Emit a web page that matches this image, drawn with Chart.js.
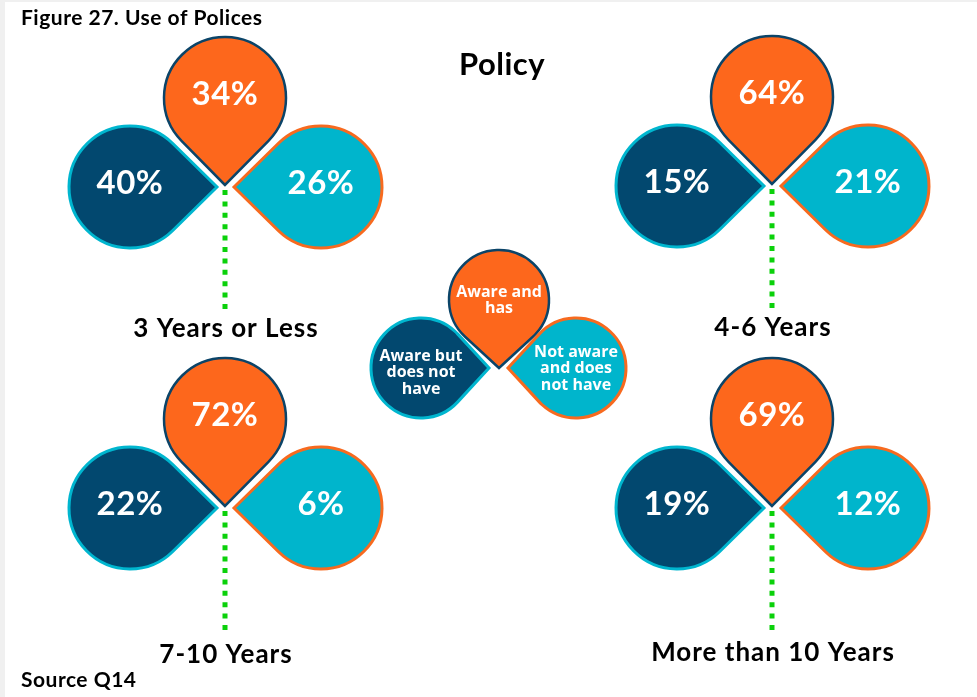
<!DOCTYPE html>
<html>
<head>
<meta charset="utf-8">
<title>Use of Polices</title>
<script src="https://cdn.jsdelivr.net/npm/chart.js@4.4.1/dist/chart.umd.min.js"></script>
<style>
  html, body { margin: 0; padding: 0; background: #ffffff; }
  #wrap { width: 977px; height: 697px; }
</style>
</head>
<body>
<div id="wrap"><canvas id="policyChart" width="977" height="697"></canvas></div>
<script>

/* DATA */
const groups = ["3 Years or Less", "4-6 Years", "7-10 Years", "More than 10 Years"];
const categories = ["Aware and has", "Aware but does not have", "Not aware and does not have"];

const awareHas     = [34, 64, 72, 69];
const awareNotHave = [40, 15, 22, 19];
const notAware     = [26, 21, 6, 12];

/* LAYOUT (page units, the scales run 0..977 and 0..697) */
const cloverTips = [
  { x: 225, y: 185, labelDy: 152 },
  { x: 772, y: 184, labelDy: 152 },
  { x: 225, y: 506, labelDy: 157 },
  { x: 772, y: 506, labelDy: 155 }
];
const legendTip = { x: 498, y: 367 };

const petals = [
  { values: awareHas,     fill: "#fd671c", stroke: "#0b4468", lineWidth: 2.5, dx: 0,   dy: -87, angle: Math.PI / 2, ldx: 1,   ldy: -67, textDy: -1 },
  { values: awareNotHave, fill: "#02486f", stroke: "#00b6cf", lineWidth: 3,   dx: -95, dy: 2,   angle: 0,           ldx: -77, ldy: 1,   textDy: 3 },
  { values: notAware,     fill: "#00b5cc", stroke: "#f76a1f", lineWidth: 3,   dx: 96,  dy: 2,   angle: Math.PI,     ldx: 78,  ldy: 1,   textDy: -1 }
];

const R = 61, D = 87;
const LR = 50, LD = 68;

/* PETAL SHAPE */
function drawPetal(ctx, cx, cy, r, d, a, fill, stroke, lw) {

  const phi = Math.acos(r / d);

  ctx.beginPath();
  ctx.moveTo(cx + d * Math.cos(a), cy + d * Math.sin(a));
  ctx.arc(cx, cy, r, a + phi, a - phi + 2 * Math.PI);
  ctx.closePath();

  ctx.fillStyle = fill;
  ctx.fill();

  ctx.lineJoin = "miter";
  ctx.lineWidth = lw;
  ctx.strokeStyle = stroke;
  ctx.stroke();
}

function wrapText(ctx, text, maxWidth) {

  const words = text.split(" ");
  const lines = [];
  let line = "";

  words.forEach(w => {
    const test = line ? line + " " + w : w;
    if (line && ctx.measureText(test).width > maxWidth) {
      lines.push(line);
      line = w;
    } else {
      line = test;
    }
  });

  lines.push(line);
  return lines;
}

/* CLOVER PLUGIN */
const cloverPlugin = {

  id: "clover",

  beforeDraw(chart) {
    const ctx = chart.ctx;
    ctx.save();
    ctx.fillStyle = "#f0f0f0";
    ctx.fillRect(0, 0, chart.width, chart.height);
    ctx.fillStyle = "#ffffff";
    ctx.fillRect(5, 2, chart.width - 5, chart.height - 2);
    ctx.restore();
  },

  afterDatasetsDraw(chart) {

    const ctx = chart.ctx;
    const xs = chart.scales.x;
    const ys = chart.scales.y;
    const len = v => xs.getPixelForValue(v) - xs.getPixelForValue(0);

    ctx.save();

    /* STEMS */
    cloverTips.forEach(t => {
      ctx.beginPath();
      ctx.setLineDash([5, 6.4]);
      ctx.lineWidth = 5;
      ctx.strokeStyle = "#0bd10b";
      ctx.moveTo(xs.getPixelForValue(t.x), ys.getPixelForValue(t.y + 5));
      ctx.lineTo(xs.getPixelForValue(t.x), ys.getPixelForValue(t.y + 127));
      ctx.stroke();
    });
    ctx.setLineDash([]);

    /* PETALS + VALUES */
    chart.data.datasets.forEach((ds, k) => {

      const p = petals[k];
      const meta = chart.getDatasetMeta(k);

      meta.data.forEach((pt, i) => {

        drawPetal(ctx, pt.x, pt.y, len(R), len(D), p.angle, p.fill, p.stroke, p.lineWidth);

        ctx.fillStyle = "#ffffff";
        ctx.font = "bold 33px Lato";
        ctx.letterSpacing = "0.5px";
        ctx.textAlign = "center";
        ctx.textBaseline = "alphabetic";
        ctx.fillText(ds.data[i].v + "%", pt.x, pt.y + 7);
      });
    });

    /* GROUP LABELS */
    ctx.fillStyle = "#000000";
    ctx.font = "bold 26px Lato";
    ctx.letterSpacing = "1px";
    ctx.textAlign = "center";
    groups.forEach((g, i) => {
      const t = cloverTips[i];
      ctx.fillText(g, xs.getPixelForValue(t.x + 1), ys.getPixelForValue(t.y + t.labelDy));
    });

    /* LEGEND CLOVER */
    ctx.letterSpacing = "0px";
    petals.forEach((p, k) => {

      const cx = xs.getPixelForValue(legendTip.x + p.ldx);
      const cy = ys.getPixelForValue(legendTip.y + p.ldy);

      drawPetal(ctx, cx, cy, len(LR), len(LD), p.angle, p.fill, p.stroke, p.lineWidth);

      ctx.fillStyle = "#ffffff";
      ctx.font = "bold 16px 'Open Sans'";
      ctx.textAlign = "center";

      const lines = wrapText(ctx, categories[k], 90);
      const lh = 16.5;

      lines.forEach((line, j) => {
        const y = cy + (j - (lines.length - 1) / 2) * lh + 6 + p.textDy;
        ctx.fillText(line, cx, y);
      });
    });

    /* TITLES */
    ctx.fillStyle = "#000000";
    ctx.textAlign = "center";
    ctx.font = "bold 31px Lato";
    ctx.letterSpacing = "0.5px";
    ctx.fillText("Policy", 502, 75);

    ctx.textAlign = "left";
    ctx.font = "bold 21px Lato";
    ctx.fillText("Figure 27. Use of Polices", 21, 25);
    ctx.fillText("Source Q14", 21, 687);

    ctx.restore();
  }
};

/* CHART */
const policyChart = new Chart(
  document.getElementById("policyChart"),
  {

    type: "scatter",

    data: {

      datasets: petals.map((p, k) => ({

        label: categories[k],

        data: p.values.map((v, i) => ({
          x: cloverTips[i].x + p.dx,
          y: cloverTips[i].y + p.dy,
          v: v
        })),

        pointRadius: 0,
        pointHoverRadius: 0,
        backgroundColor: p.fill,
        borderColor: p.stroke
      }))
    },

    options: {

      responsive: false,
      animation: false,
      events: [],

      layout: { padding: 0 },

      plugins: {
        legend: { display: false },
        tooltip: { enabled: false }
      },

      scales: {

        x: {
          type: "linear",
          display: false,
          min: 0,
          max: 977
        },

        y: {
          type: "linear",
          display: false,
          reverse: true,
          min: 0,
          max: 697
        }
      }
    },

    plugins: [cloverPlugin]
  }
);
</script>
</body>
</html>
